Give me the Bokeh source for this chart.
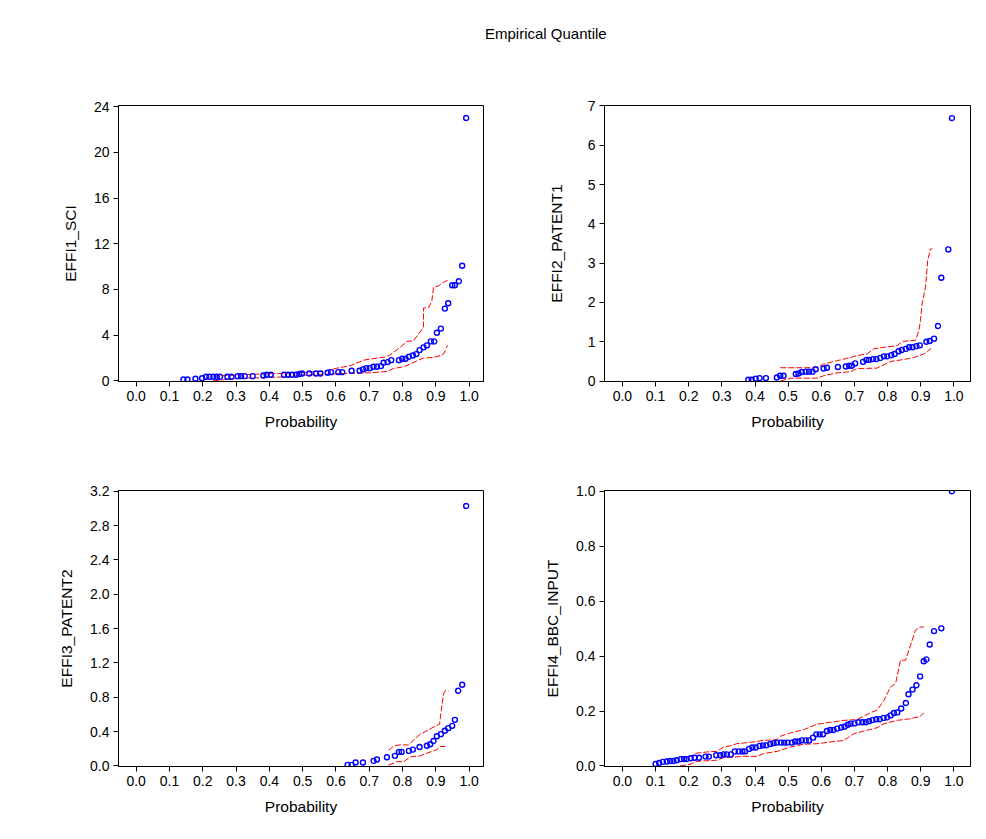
from bokeh.plotting import figure
from bokeh.models import FixedTicker, Range1d, Div
from bokeh.layouts import column, row
from bokeh.embed import file_html
from bokeh.resources import INLINE

# ---------------- data ----------------
TITLE = "Empirical Quantile"
X_LABEL = "Probability"
x_ticks = [0.0, 0.1, 0.2, 0.3, 0.4, 0.5, 0.6, 0.7, 0.8, 0.9, 1.0]
x_tick_labels = ["0.0", "0.1", "0.2", "0.3", "0.4", "0.5", "0.6", "0.7", "0.8", "0.9", "1.0"]

# EFFI1_SCI
y1_label = "EFFI1_SCI"
y1_ticks = [0, 4, 8, 12, 16, 20, 24]
y1_tick_labels = ["0", "4", "8", "12", "16", "20", "24"]
p1_prob = [0.142, 0.154, 0.178, 0.198, 0.210, 0.220, 0.232, 0.242, 0.252, 0.274, 0.286, 0.305, 0.315, 0.326,
           0.350, 0.382, 0.392, 0.404, 0.444, 0.456, 0.468, 0.480, 0.490, 0.498, 0.520, 0.540, 0.553, 0.575,
           0.585, 0.607, 0.619, 0.647, 0.671, 0.681, 0.691, 0.701, 0.713, 0.723, 0.735, 0.743, 0.755, 0.766,
           0.789, 0.799, 0.809, 0.819, 0.831, 0.841, 0.851, 0.863, 0.873, 0.885, 0.895, 0.903, 0.915, 0.927,
           0.937, 0.949, 0.957, 0.969, 0.979, 0.991]
p1_val = [0.12, 0.12, 0.18, 0.23, 0.35, 0.35, 0.35, 0.35, 0.35, 0.35, 0.35, 0.41, 0.41, 0.41,
          0.41, 0.47, 0.53, 0.53, 0.53, 0.53, 0.53, 0.53, 0.59, 0.64, 0.64, 0.64, 0.64, 0.70,
          0.76, 0.76, 0.76, 0.88, 0.88, 1.00, 1.11, 1.11, 1.23, 1.23, 1.29, 1.58, 1.64, 1.81,
          1.81, 1.93, 1.93, 2.11, 2.22, 2.34, 2.69, 2.93, 3.10, 3.45, 3.45, 4.21, 4.57, 6.32,
          6.79, 8.37, 8.37, 8.72, 10.07, 23.0]
p1_up_prob = [0.232, 0.400, 0.442, 0.523, 0.572, 0.603, 0.643, 0.683, 0.723, 0.753, 0.773, 0.793, 0.813,
              0.833, 0.848, 0.863, 0.863, 0.878, 0.888, 0.893, 0.908, 0.923, 0.935]
p1_up_val = [0.41, 0.64, 0.64, 0.76, 0.88, 1.11, 1.32, 1.81, 1.99, 2.11, 2.49, 2.93, 3.45,
             3.51, 4.10, 4.68, 6.38, 6.38, 7.02, 8.20, 8.31, 8.63, 8.78]
p1_lo_prob = [0.232, 0.272, 0.322, 0.402, 0.442, 0.523, 0.623, 0.703, 0.753, 0.773, 0.803, 0.823, 0.843,
              0.863, 0.893, 0.913, 0.923, 0.935]
p1_lo_val = [0.0, 0.12, 0.23, 0.29, 0.35, 0.53, 0.64, 0.70, 0.82, 1.08, 1.23, 1.46, 1.76,
             1.99, 2.05, 2.20, 2.34, 3.10]

# EFFI2_PATENT1
y2_label = "EFFI2_PATENT1"
y2_ticks = [0, 1, 2, 3, 4, 5, 6, 7]
y2_tick_labels = ["0", "1", "2", "3", "4", "5", "6", "7"]
p2_prob = [0.380, 0.390, 0.402, 0.414, 0.433, 0.466, 0.476, 0.486, 0.523, 0.531, 0.541, 0.553, 0.563, 0.573,
           0.583, 0.607, 0.617, 0.650, 0.674, 0.684, 0.692, 0.702, 0.726, 0.736, 0.744, 0.756, 0.766, 0.778,
           0.789, 0.799, 0.811, 0.821, 0.833, 0.843, 0.855, 0.865, 0.875, 0.887, 0.897, 0.917, 0.927, 0.940,
           0.952, 0.962, 0.983, 0.994]
p2_val = [0.034, 0.034, 0.06, 0.076, 0.076, 0.093, 0.136, 0.136, 0.18, 0.195, 0.23, 0.24, 0.24, 0.24,
          0.30, 0.32, 0.34, 0.36, 0.37, 0.39, 0.39, 0.45, 0.49, 0.54, 0.54, 0.56, 0.56, 0.59,
          0.63, 0.63, 0.66, 0.69, 0.76, 0.79, 0.82, 0.86, 0.86, 0.89, 0.91, 1.00, 1.02, 1.08,
          1.40, 2.63, 3.35, 6.69]
p2_up_prob = [0.476, 0.587, 0.607, 0.648, 0.688, 0.708, 0.738, 0.758, 0.789, 0.829, 0.844, 0.884, 0.894,
              0.899, 0.904, 0.914, 0.921, 0.929, 0.935]
p2_up_val = [0.34, 0.34, 0.43, 0.52, 0.60, 0.65, 0.69, 0.82, 0.86, 0.90, 1.01, 1.04, 1.28,
             1.54, 1.96, 2.38, 3.07, 3.36, 3.36]
p2_lo_prob = [0.476, 0.507, 0.587, 0.607, 0.648, 0.688, 0.708, 0.768, 0.809, 0.849, 0.879, 0.909, 0.931]
p2_lo_val = [0.0, 0.076, 0.076, 0.136, 0.21, 0.24, 0.32, 0.33, 0.50, 0.55, 0.60, 0.69, 0.83]

# EFFI3_PATENT2
y3_label = "EFFI3_PATENT2"
y3_ticks = [0.0, 0.4, 0.8, 1.2, 1.6, 2.0, 2.4, 2.8, 3.2]
y3_tick_labels = ["0.0", "0.4", "0.8", "1.2", "1.6", "2.0", "2.4", "2.8", "3.2"]
p3_prob = [0.635, 0.647, 0.659, 0.681, 0.713, 0.723, 0.753, 0.777, 0.789, 0.797, 0.819, 0.831, 0.851,
           0.873, 0.883, 0.893, 0.903, 0.915, 0.927, 0.937, 0.949, 0.957, 0.967, 0.979, 0.991]
p3_val = [0.012, 0.012, 0.039, 0.039, 0.058, 0.074, 0.10, 0.117, 0.163, 0.163, 0.175, 0.19, 0.22,
          0.234, 0.253, 0.29, 0.346, 0.37, 0.41, 0.44, 0.467, 0.537, 0.876, 0.946, 3.03]
p3_up_prob = [0.758, 0.775, 0.793, 0.818, 0.833, 0.853, 0.873, 0.898, 0.911, 0.916, 0.923, 0.928, 0.938]
p3_up_val = [0.183, 0.234, 0.245, 0.245, 0.30, 0.37, 0.41, 0.463, 0.486, 0.642, 0.837, 0.876, 0.876]
p3_lo_prob = [0.758, 0.783, 0.803, 0.823, 0.853, 0.883, 0.903, 0.913, 0.928]
p3_lo_val = [0.008, 0.05, 0.05, 0.105, 0.117, 0.163, 0.19, 0.226, 0.226]

# EFFI4_BBC_INPUT
y4_label = "EFFI4_BBC_INPUT"
y4_ticks = [0.0, 0.2, 0.4, 0.6, 0.8, 1.0]
y4_tick_labels = ["0.0", "0.2", "0.4", "0.6", "0.8", "1.0"]
p4_prob = [0.100, 0.111, 0.122, 0.134, 0.144, 0.154, 0.164, 0.176, 0.186, 0.194, 0.206, 0.218, 0.231,
           0.251, 0.261, 0.283, 0.295, 0.305, 0.315, 0.327, 0.339, 0.351, 0.362, 0.370, 0.382, 0.392,
           0.402, 0.414, 0.424, 0.434, 0.446, 0.456, 0.466, 0.478, 0.488, 0.498, 0.511, 0.521, 0.531,
           0.541, 0.553, 0.563, 0.575, 0.585, 0.595, 0.605, 0.617, 0.627, 0.637, 0.648, 0.660, 0.670,
           0.680, 0.688, 0.700, 0.712, 0.724, 0.734, 0.744, 0.754, 0.766, 0.776, 0.788, 0.799, 0.809,
           0.819, 0.829, 0.841, 0.855, 0.863, 0.875, 0.887, 0.898, 0.909, 0.917, 0.927, 0.940, 0.962, 0.994]
p4_val = [0.007, 0.011, 0.015, 0.016, 0.018, 0.018, 0.021, 0.025, 0.025, 0.025, 0.028, 0.030, 0.030,
          0.034, 0.034, 0.039, 0.039, 0.042, 0.042, 0.042, 0.053, 0.053, 0.053, 0.053, 0.062, 0.067,
          0.067, 0.073, 0.075, 0.075, 0.080, 0.083, 0.085, 0.085, 0.085, 0.085, 0.085, 0.089, 0.089,
          0.093, 0.093, 0.093, 0.103, 0.115, 0.115, 0.115, 0.127, 0.131, 0.131, 0.136, 0.140, 0.143,
          0.150, 0.154, 0.155, 0.159, 0.159, 0.159, 0.163, 0.167, 0.170, 0.170, 0.175, 0.177, 0.184,
          0.193, 0.195, 0.209, 0.229, 0.261, 0.278, 0.294, 0.326, 0.381, 0.388, 0.442, 0.491, 0.501, 1.0]
p4_up_prob = [0.174, 0.204, 0.225, 0.265, 0.285, 0.305, 0.325, 0.345, 0.386, 0.426, 0.466, 0.476, 0.507,
              0.547, 0.587, 0.627, 0.668, 0.708, 0.728, 0.748, 0.768, 0.789, 0.809, 0.824, 0.839, 0.854,
              0.869, 0.884, 0.899, 0.909]
p4_up_val = [0.034, 0.034, 0.047, 0.052, 0.053, 0.069, 0.073, 0.081, 0.086, 0.093, 0.096, 0.108, 0.120,
             0.132, 0.152, 0.159, 0.166, 0.169, 0.181, 0.194, 0.203, 0.239, 0.288, 0.300, 0.385, 0.385,
             0.439, 0.494, 0.506, 0.506]
p4_lo_prob = [0.174, 0.204, 0.225, 0.285, 0.305, 0.366, 0.406, 0.426, 0.466, 0.507, 0.547, 0.587, 0.607,
              0.627, 0.668, 0.698, 0.728, 0.768, 0.789, 0.829, 0.869, 0.899, 0.909]
p4_lo_val = [0.0, 0.006, 0.017, 0.021, 0.030, 0.035, 0.035, 0.045, 0.053, 0.069, 0.079, 0.081, 0.084,
             0.087, 0.093, 0.117, 0.127, 0.139, 0.154, 0.166, 0.172, 0.181, 0.194]

# ---------------- styling ----------------
FONT = "Liberation Sans"
TICK_SIZE = "14px"
LABEL_SIZE = "15.5px"


def make_panel(ylabel, yt, ytl, yr, prob, val, up_p, up_v, lo_p, lo_v,
               width, height, bl, br, bt, bb, xr, ystand):
    p = figure(width=width, height=height, output_backend="svg", toolbar_location=None,
               x_range=Range1d(*xr), y_range=Range1d(*yr),
               min_border_left=bl, min_border_right=br, min_border_top=bt, min_border_bottom=bb)
    p.grid.visible = False
    p.outline_line_color = "black"
    p.outline_line_width = 1
    p.outline_line_alpha = 1
    p.background_fill_color = "white"
    p.border_fill_color = "white"
    p.line(up_p, up_v, line_color="red", line_width=1, line_dash="6 2")
    p.line(lo_p, lo_v, line_color="red", line_width=1, line_dash="6 2")
    p.scatter(prob, val, marker="circle", size=5, fill_color=None,
              line_color="blue", line_width=1.4)
    for ax in (p.xaxis[0], p.yaxis[0]):
        ax.major_tick_out = 5
        ax.major_tick_in = 0
        ax.minor_tick_out = 0
        ax.minor_tick_in = 0
        ax.axis_line_color = "black"
        ax.major_tick_line_color = "black"
        ax.major_label_text_font = FONT
        ax.major_label_text_font_size = TICK_SIZE
        ax.major_label_text_color = "black"
        ax.axis_label_text_font = FONT
        ax.axis_label_text_font_size = LABEL_SIZE
        ax.axis_label_text_font_style = "normal"
        ax.axis_label_text_color = "black"
        ax.major_label_standoff = 4
    p.xaxis.ticker = FixedTicker(ticks=x_ticks)
    p.xaxis.major_label_overrides = dict(zip(x_ticks, x_tick_labels))
    p.xaxis.axis_label = X_LABEL
    p.xaxis.axis_label_standoff = 9
    p.yaxis.ticker = FixedTicker(ticks=yt)
    p.yaxis.major_label_overrides = dict(zip(yt, ytl))
    p.yaxis.axis_label = ylabel
    p.yaxis.axis_label_standoff = ystand
    return p


XR1 = (-0.053, 1.043)
XR2 = (-0.054, 1.050)

p1 = make_panel(y1_label, y1_ticks, y1_tick_labels, (-0.06, 24.1), p1_prob, p1_val,
                p1_up_prob, p1_up_val, p1_lo_prob, p1_lo_val,
                494, 383, 118, 11, 47, 60, XR1, 12)
p2 = make_panel(y2_label, y2_ticks, y2_tick_labels, (-0.01, 7.01), p2_prob, p2_val,
                p2_up_prob, p2_up_val, p2_lo_prob, p2_lo_val,
                487, 383, 110, 11, 47, 60, XR2, 20)
p3 = make_panel(y3_label, y3_ticks, y3_tick_labels, (-0.007, 3.21), p3_prob, p3_val,
                p3_up_prob, p3_up_val, p3_lo_prob, p3_lo_val,
                494, 385, 118, 11, 49, 60, XR1, 12)
p4 = make_panel(y4_label, y4_ticks, y4_tick_labels, (-0.002, 1.003), p4_prob, p4_val,
                p4_up_prob, p4_up_val, p4_lo_prob, p4_lo_val,
                487, 385, 110, 11, 49, 60, XR2, 12)

title_div = Div(
    text=('<div style="margin-left:485px;padding-top:25px;line-height:17px;'
          'font-family:\'Liberation Sans\';font-size:15px;color:black;white-space:nowrap;">'
          + TITLE + '</div>'),
    width=981, height=58, margin=(0, 0, 0, 0))

layout = column(title_div, row(p1, p2), row(p3, p4))

open("out.html", "w").write(file_html(layout, INLINE))
